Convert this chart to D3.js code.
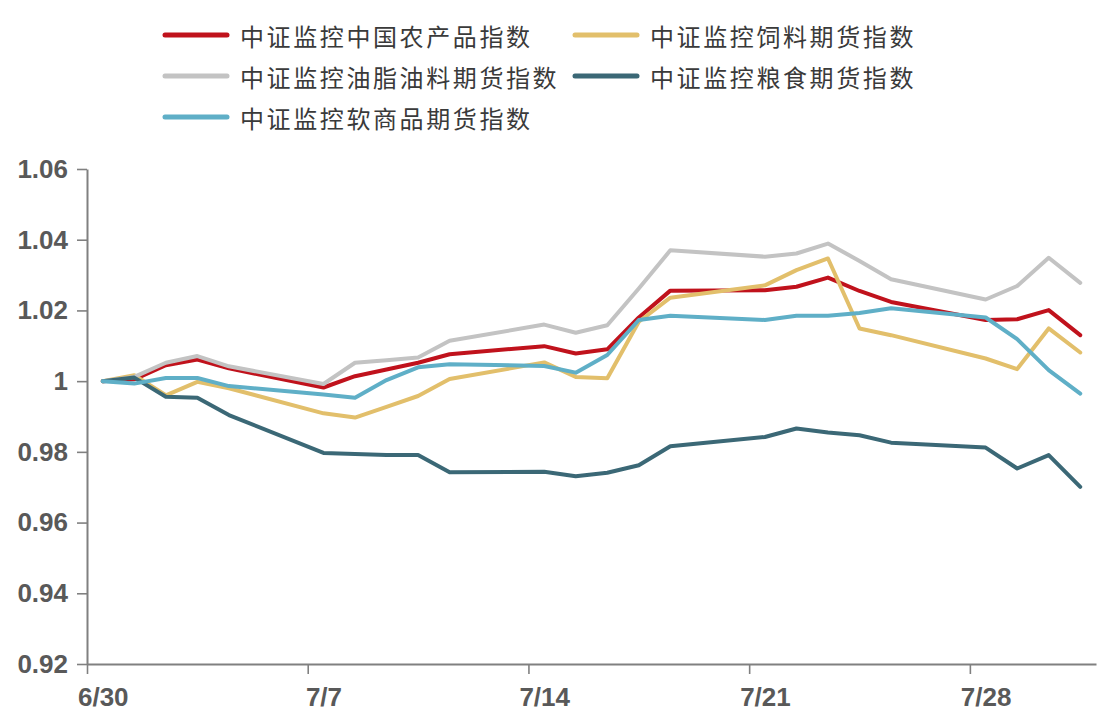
<!DOCTYPE html>
<html><head><meta charset="utf-8">
<script src="https://cdn.jsdelivr.net/npm/d3@7"></script>
<style>body{margin:0;background:#fff}</style>
</head><body><svg id="c" width="1115" height="719"></svg>
<script>
const dates = ["2025-06-30","2025-07-01","2025-07-02","2025-07-03","2025-07-04",
  "2025-07-07","2025-07-08","2025-07-09","2025-07-10","2025-07-11",
  "2025-07-14","2025-07-15","2025-07-16","2025-07-17","2025-07-18",
  "2025-07-21","2025-07-22","2025-07-23","2025-07-24","2025-07-25",
  "2025-07-28","2025-07-29","2025-07-30","2025-07-31"];
const seriesNames = ["中证监控中国农产品指数","中证监控饲料期货指数","中证监控油脂油料期货指数","中证监控粮食期货指数","中证监控软商品期货指数"];
const seriesColors = ["#C0121C","#E2BF6B","#C3C3C3","#3B6876","#5FAFC7"];
const agriValues = [1.000,1.0005,1.0045,1.0061,1.0036,0.9982,1.0014,1.0033,1.0052,1.0076,1.0099,1.0078,1.0090,1.0180,1.0256,1.0257,1.0267,1.0293,1.0255,1.0224,1.0173,1.0175,1.0201,1.0130];
const feedValues = [1.000,1.0017,0.9960,0.9998,0.9980,0.9909,0.9897,0.9927,0.9958,1.0006,1.0053,1.0012,1.0008,1.0168,1.0236,1.0271,1.0314,1.0347,1.0149,1.0130,1.0064,1.0034,1.0149,1.0081];
const oilValues = [1.000,1.0012,1.0052,1.0071,1.0042,0.9992,1.0052,1.0059,1.0067,1.0114,1.0160,1.0137,1.0158,1.0262,1.0370,1.0352,1.0361,1.0389,1.0340,1.0288,1.0231,1.0269,1.0349,1.0278];
const grainValues = [1.000,1.0010,0.9956,0.9953,0.9904,0.9797,0.9794,0.9791,0.9791,0.9742,0.9744,0.9731,0.9741,0.9762,0.9816,0.9842,0.9866,0.9855,0.9847,0.9826,0.9812,0.9753,0.9791,0.9701];
const softValues = [1.000,0.9993,1.0009,1.0009,0.9986,0.9962,0.9953,1.0003,1.0039,1.0048,1.0043,1.0024,1.0074,1.0173,1.0185,1.0173,1.0185,1.0185,1.0193,1.0206,1.0180,1.0119,1.0031,0.9965];
const yTicks = [0.92,0.94,0.96,0.98,1.00,1.02,1.04,1.06];
const xTickDates = ["2025-06-30","2025-07-07","2025-07-14","2025-07-21","2025-07-28"];
const xTickLabels = ["6/30","7/7","7/14","7/21","7/28"];

const allSeries = [agriValues, feedValues, oilValues, grainValues, softValues];
const parse = d3.utcParse("%Y-%m-%d");
const HALF = 12*3600*1000;
const svg = d3.select("#c");
const x = d3.scaleUtc().domain([parse("2025-06-30"), parse("2025-08-01")]).range([87, 1096]);
const y = d3.scaleLinear().domain([0.92, 1.06]).range([664, 169]);
const halfPx = x(new Date(parse("2025-06-30").getTime()+HALF)) - x(parse("2025-06-30"));

// axes
const yAxis = d3.axisLeft(y).tickValues(yTicks).tickSize(10).tickSizeOuter(0).tickPadding(9)
  .tickFormat(d => Math.abs(d-1)<1e-9 ? "1" : d3.format(".2f")(d));
const gy = svg.append("g").attr("transform","translate(87,0)").call(yAxis);
const xAxis = d3.axisBottom(x).tickValues(xTickDates.map(parse)).tickSize(10).tickSizeOuter(0).tickPadding(14)
  .tickFormat((d,i) => xTickLabels[i]);
const gx = svg.append("g").attr("transform","translate(0,664)").call(xAxis);
gx.selectAll(".tick text").attr("x", halfPx);
[gx, gy].forEach(g => {
  g.select(".domain").attr("stroke","#808080").attr("stroke-width",2);
  g.selectAll(".tick line").attr("stroke","#808080").attr("stroke-width",1.6);
  g.selectAll(".tick text").attr("fill","#595959")
    .style("font-family","'Liberation Sans', Arial, sans-serif").style("font-size","26px").style("font-weight","bold");
});

// lines
const line = d3.line()
  .x((d,i) => x(new Date(parse(dates[i]).getTime()+HALF)))
  .y(d => y(d));
allSeries.forEach((vals, k) => {
  svg.append("path").datum(vals)
    .attr("fill","none").attr("stroke",seriesColors[k]).attr("stroke-width",4)
    .attr("stroke-linejoin","round").attr("stroke-linecap","round")
    .attr("d", line);
});

// legend
const legendPos = [[165,35],[575,35],[165,76],[575,76],[165,117]];
seriesNames.forEach((name,k) => {
  const [lx, ly] = legendPos[k];
  svg.append("line").attr("x1",lx).attr("x2",lx+62).attr("y1",ly).attr("y2",ly)
    .attr("stroke",seriesColors[k]).attr("stroke-width",5).attr("stroke-linecap","round");
  svg.append("text").attr("x",lx+75).attr("y",ly).attr("dominant-baseline","central")
    .attr("fill","#3a3a3a")
    .style("font-family","'Noto Sans CJK SC', sans-serif").style("font-size","24px")
    .style("letter-spacing","2.6px")
    .text(name);
});
</script></body></html>
